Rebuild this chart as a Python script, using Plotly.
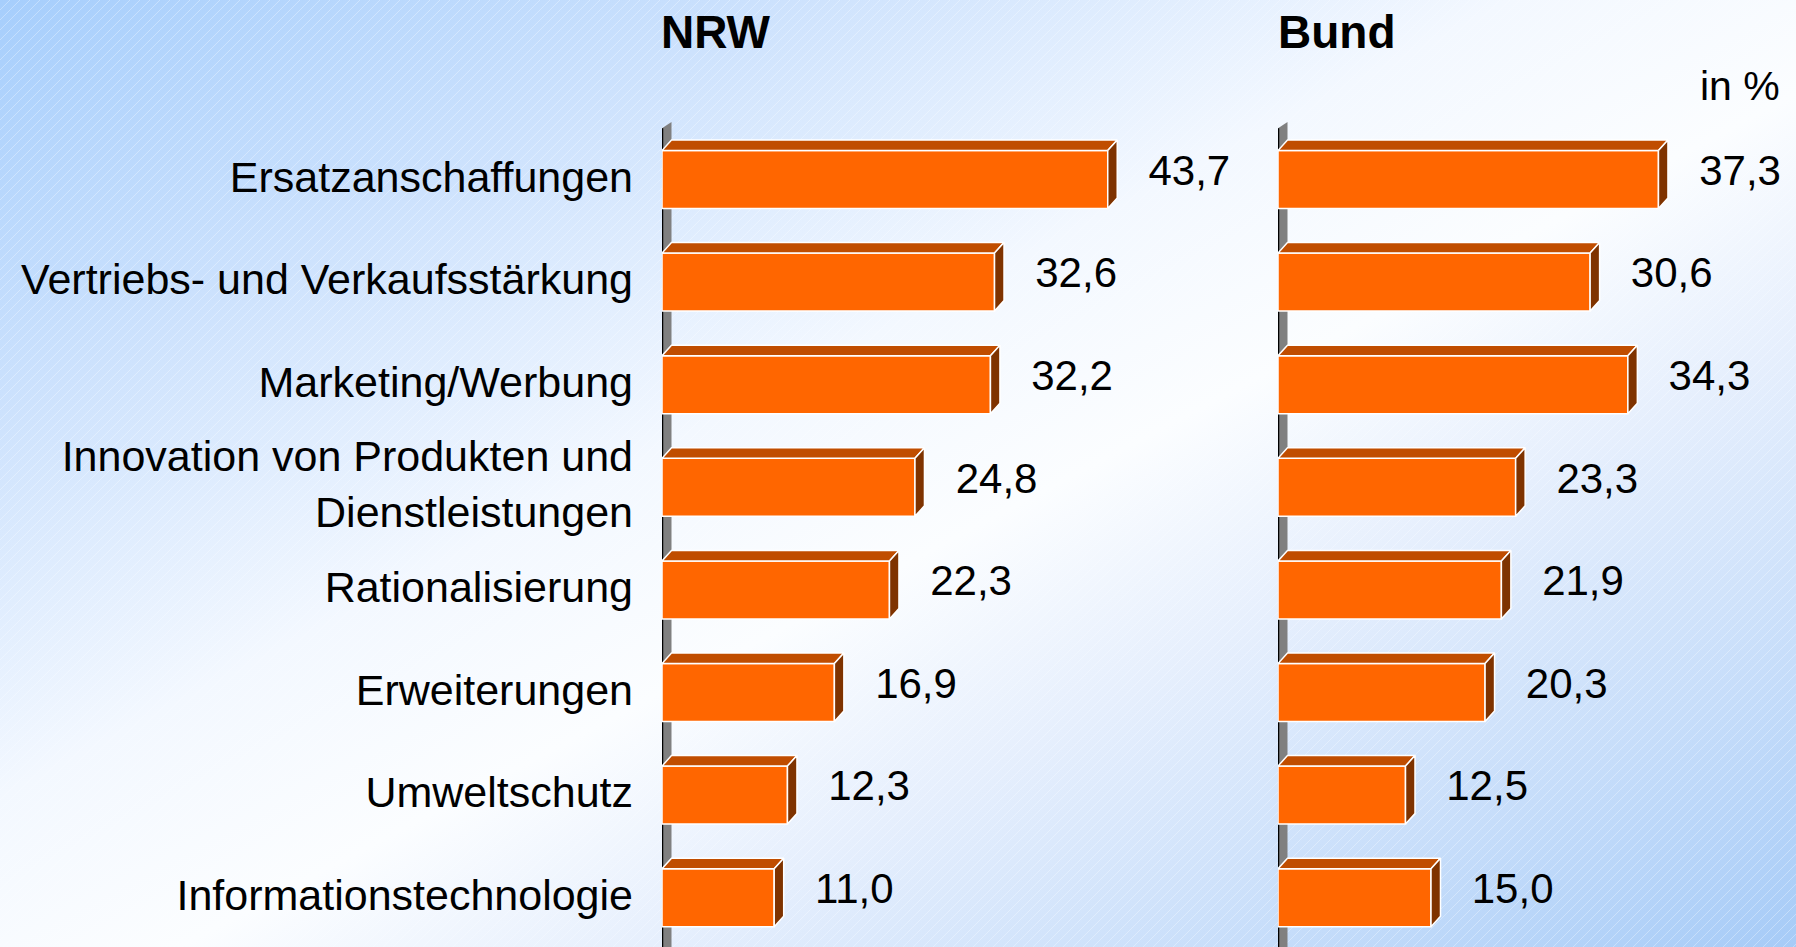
import base64
import plotly.graph_objects as go

# data
categories = [
    "Ersatzanschaffungen",
    "Vertriebs- und Verkaufsstärkung",
    "Marketing/Werbung",
    "Innovation von Produkten und<br>Dienstleistungen",
    "Rationalisierung",
    "Erweiterungen",
    "Umweltschutz",
    "Informationstechnologie",
]
nrw = [43.7, 32.6, 32.2, 24.8, 22.3, 16.9, 12.3, 11.0]
bund = [37.3, 30.6, 34.3, 23.3, 21.9, 20.3, 12.5, 15.0]
panel_titles = ["NRW", "Bund"]
unit_label = "in %"

# geometry (pixels of the 1796x947 page)
W, H = 1796, 947
PX_X = 10.2          # px per percent point
PX_Y = 102.6         # px per category
Y0 = 179.5           # pixel of first bar centre
NRW_X0, NRW_X1 = 662, 1250
BUND_X0, BUND_X1 = 1278, W
DX = 9.5 / PX_X      # 3d depth in data units
DY = 10.5 / PX_Y
BW = 58 / PX_Y       # bar thickness
LABEL_GAP = 36 / PX_X
TICK_SHIFT = 3 / PX_Y

FONT = "Liberation Sans, Arial, sans-serif"
FRONT, TOP, SIDE = "#FF6600", "#C04D00", "#7F3300"

y_bottom = (H - Y0) / PX_Y
y_top = -Y0 / PX_Y
ypos = list(range(len(categories)))


def fmt(v):
    return f"{v:.1f}".replace(".", ",")


def faces(vals):
    tx, ty, sx, sy = [], [], [], []
    for i, v in zip(ypos, vals):
        t, b = i - BW / 2, i + BW / 2
        tx += [0, v, v + DX, DX, 0, None]
        ty += [t, t, t - DY, t - DY, t, None]
        sx += [v, v + DX, v + DX, v, v, None]
        sy += [t, t - DY, b - DY, b, t, None]
    return tx, ty, sx, sy


fig = go.Figure()

for vals, xa, ya in [(nrw, "x", "y"), (bund, "x2", "y2")]:
    fig.add_trace(go.Bar(
        x=vals, y=ypos, orientation="h", width=BW,
        marker=dict(color=FRONT, line=dict(color="white", width=1.5)),
        xaxis=xa, yaxis=ya, hoverinfo="skip", showlegend=False,
    ))
    tx, ty, sx, sy = faces(vals)
    fig.add_trace(go.Scatter(
        x=tx, y=ty, mode="lines", fill="toself", fillcolor=TOP,
        line=dict(color="white", width=1.5),
        xaxis=xa, yaxis=ya, hoverinfo="skip", showlegend=False,
    ))
    fig.add_trace(go.Scatter(
        x=sx, y=sy, mode="lines", fill="toself", fillcolor=SIDE,
        line=dict(color="white", width=1.5),
        xaxis=xa, yaxis=ya, hoverinfo="skip", showlegend=False,
    ))
    fig.add_trace(go.Scatter(
        x=[v + DX / 2 + LABEL_GAP for v in vals], y=[i - DY / 2 for i in ypos],
        mode="text", text=[fmt(v) for v in vals], textposition="middle right",
        textfont=dict(family=FONT, size=42, color="black"),
        xaxis=xa, yaxis=ya, hoverinfo="skip", showlegend=False, cliponaxis=False,
    ))

# grey axis wall with black edge
shapes = []
for xa, ya in [("x", "y"), ("x2", "y2")]:
    shapes.append(dict(
        type="path", xref=xa, yref=ya, layer="below",
        path=f"M 0,{y_bottom} L 0,-0.5 L {DX},{-0.5 - DY * 0.6} L {DX},{y_bottom} Z",
        fillcolor="#808080", line=dict(width=0),
    ))
    shapes.append(dict(
        type="line", xref=xa, yref=ya, layer="below",
        x0=0, x1=0, y0=-0.5, y1=y_bottom, line=dict(color="black", width=2.5),
    ))

# background gradient with faint hatching
bg_svg = f"""<svg xmlns="http://www.w3.org/2000/svg" width="{W}" height="{H}" viewBox="0 0 {W} {H}" preserveAspectRatio="none">
<defs>
<linearGradient id="g" x1="0" y1="0" x2="1" y2="1">
<stop offset="0" stop-color="#a6cefc"/>
<stop offset="0.22" stop-color="#cde2fd"/>
<stop offset="0.42" stop-color="#f3f8ff"/>
<stop offset="0.55" stop-color="#fbfdff"/>
<stop offset="0.68" stop-color="#e6effd"/>
<stop offset="0.85" stop-color="#c6ddfa"/>
<stop offset="1" stop-color="#a6cbf7"/>
</linearGradient>
<pattern id="p" width="10" height="10" patternUnits="userSpaceOnUse">
<path d="M-1,11 L11,-1" stroke="white" stroke-width="0.8" stroke-opacity="0.4"/>
</pattern>
</defs>
<rect width="{W}" height="{H}" fill="url(#g)"/>
<rect width="{W}" height="{H}" fill="url(#p)"/>
</svg>"""
bg_src = "data:image/svg+xml;base64," + base64.b64encode(bg_svg.encode()).decode()

annotations = [
    dict(text=f"<b>{panel_titles[0]}</b>", x=659 / W, y=1 - 32 / H),
    dict(text=f"<b>{panel_titles[1]}</b>", x=1276 / W, y=1 - 32 / H),
]
for a in annotations:
    a.update(xref="paper", yref="paper", xanchor="left", yanchor="middle",
             showarrow=False, font=dict(family=FONT, size=46, color="black"))
annotations.append(dict(
    text=unit_label, x=1782 / W, y=1 - 86 / H, xref="paper", yref="paper",
    xanchor="right", yanchor="middle", showarrow=False,
    font=dict(family=FONT, size=41, color="black"),
))

axis_common = dict(showgrid=False, zeroline=False, showline=False, ticks="",
                   showticklabels=False, fixedrange=True, automargin=False)

fig.update_layout(
    width=W, height=H,
    margin=dict(l=0, r=0, t=0, b=0),
    paper_bgcolor="white", plot_bgcolor="rgba(0,0,0,0)",
    barmode="overlay", showlegend=False,
    font=dict(family=FONT, color="black"),
    xaxis=dict(domain=[NRW_X0 / W, NRW_X1 / W], range=[0, (NRW_X1 - NRW_X0) / PX_X],
               anchor="y", **axis_common),
    xaxis2=dict(domain=[BUND_X0 / W, BUND_X1 / W], range=[0, (BUND_X1 - BUND_X0) / PX_X],
                anchor="y2", **axis_common),
    yaxis=dict(domain=[0, 1], range=[y_bottom, y_top], anchor="x",
               showgrid=False, zeroline=False, showline=False, ticks="",
               tickmode="array", tickvals=[i - TICK_SHIFT for i in ypos], ticktext=categories,
               tickfont=dict(family=FONT, size=43, color="black"),
               ticklabelstandoff=28, fixedrange=True, automargin=False),
    yaxis2=dict(domain=[0, 1], range=[y_bottom, y_top], anchor="x2", **axis_common),
    shapes=shapes,
    annotations=annotations,
    images=[dict(source=bg_src, xref="paper", yref="paper", x=0, y=1,
                 sizex=1, sizey=1, xanchor="left", yanchor="top",
                 sizing="stretch", layer="below")],
)

fig.write_html("out.html", config={"displayModeBar": False},
               post_script="document.body.style.margin='0';")
